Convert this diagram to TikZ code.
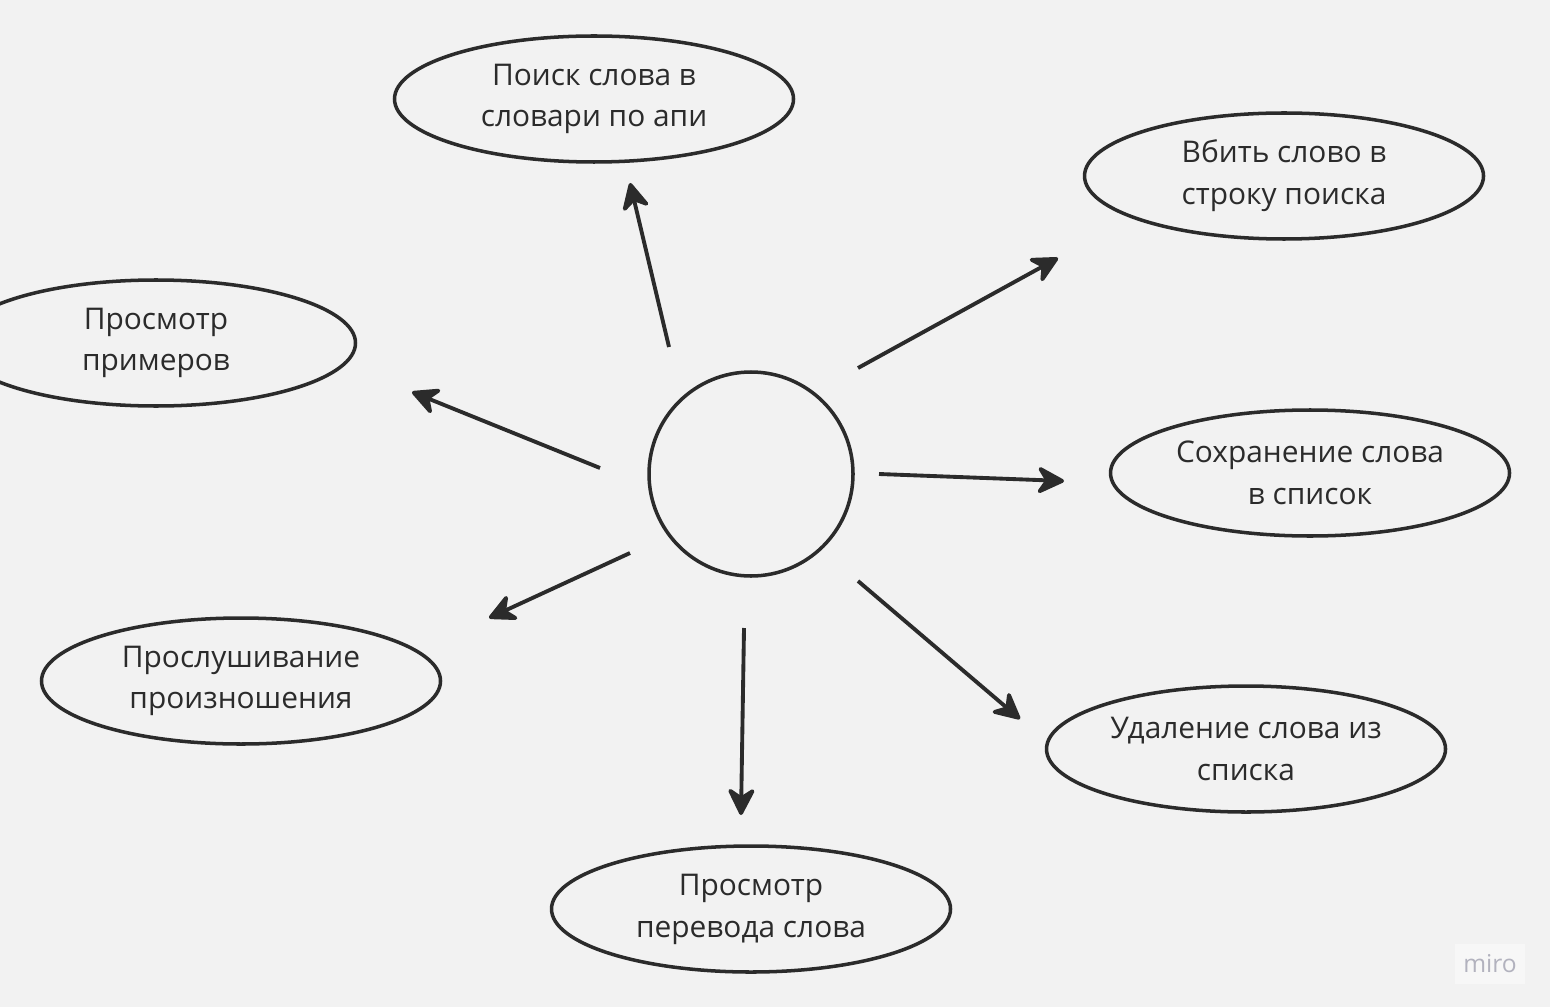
\documentclass[tikz,border=0pt]{standalone}
\usepackage{fontspec}
\setmainfont{Open Sans}
\usetikzlibrary{shapes.geometric,arrows.meta}
\definecolor{boardgray}{RGB}{242,242,242}
\definecolor{inkdark}{RGB}{43,43,43}
\definecolor{mirogray}{RGB}{178,178,190}

\begin{document}
\begin{tikzpicture}[x=0.1mm, y=-0.1mm,
		>={Stealth[round, length=9pt, width=9pt]},
		usecase/.style={draw=inkdark, line width=1pt, ellipse, minimum width=39.9mm, minimum height=12.6mm, inner sep=0pt, align=center, text=inkdark},
		arr/.style={->, draw=inkdark, line width=1.1pt},
		font=\fontsize{8.5pt}{11.9pt}\selectfont]
		% Hintergrund
		\fill[boardgray] (0,0) rectangle (1550,1007);
		\useasboundingbox (0,0) rectangle (1550,1007);
		% Mitte
		\node[draw=inkdark, line width=1pt, circle, minimum size=20.4mm, inner sep=0pt] (hub) at (751,474) {};
		% Ellipsen
		\node[usecase] (search) at (594,99) {Поиск слова в\\словари по апи};
		\node[usecase] (input) at (1284,176) {Вбить слово в\\строку поиска};
		\node[usecase] (examples) at (156,343) {Просмотр\\примеров};
		\node[usecase] (save) at (1310,473) {Сохранение слова\\в список};
		\node[usecase] (listen) at (241,681) {Прослушивание\\произношения};
		\node[usecase] (delete) at (1246,749) {Удаление слова из\\списка};
		\node[usecase] (translate) at (751,909) {Просмотр\\перевода слова};
		% Pfeilenden
		\coordinate (s1) at (669,347); \coordinate (e1) at (630,183);
		\coordinate (s2) at (858,368); \coordinate (e2) at (1058,258);
		\coordinate (s3) at (600,468); \coordinate (e3) at (412,392);
		\coordinate (s4) at (879,474); \coordinate (e4) at (1064,481);
		\coordinate (s5) at (630,553); \coordinate (e5) at (489,618);
		\coordinate (s6) at (744,628); \coordinate (e6) at (741,815);
		\coordinate (s7) at (858,581); \coordinate (e7) at (1020,719);
		\foreach \i in {1,...,7} \draw[arr] (s\i) -- (e\i);
		% Wasserzeichen
		\node[fill=white!40!boardgray, text=mirogray, font=\fontsize{7pt}{8pt}\selectfont, minimum width=7mm, minimum height=4mm, inner sep=0pt] (miro) at (1490,964) {miro};
	\end{tikzpicture}
\end{document}
